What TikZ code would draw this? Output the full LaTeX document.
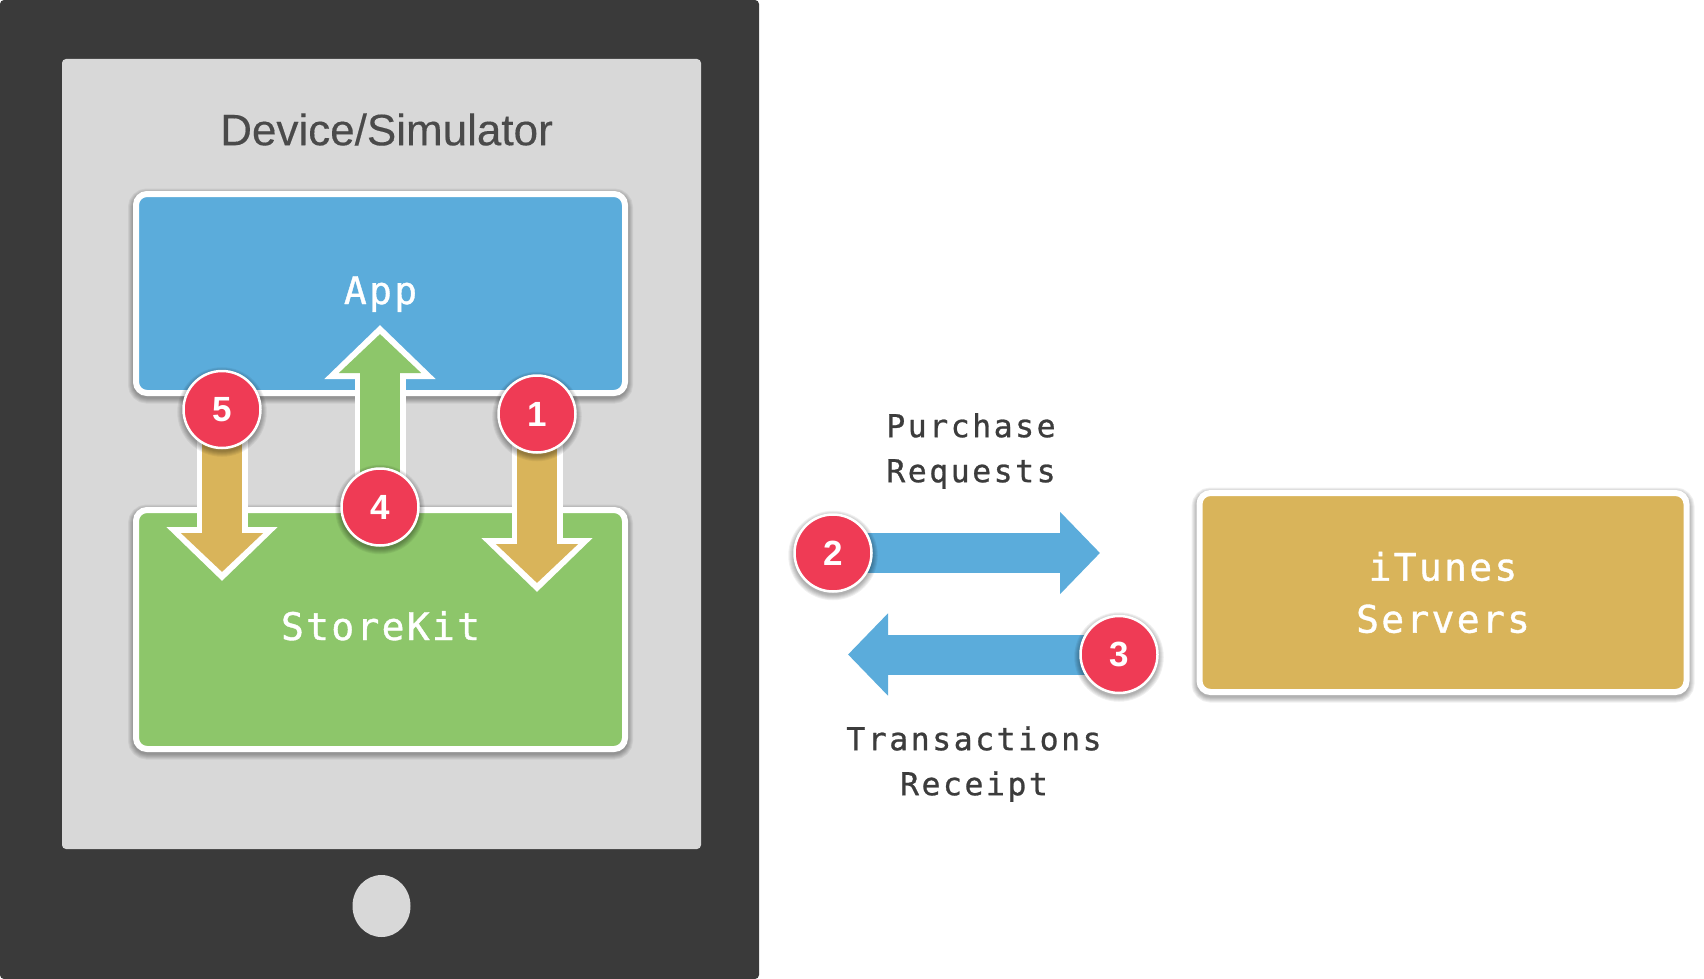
\documentclass[tikz,border=0pt]{standalone}
\usepackage{fontspec}
\setmainfont{Liberation Sans}
\newfontfamily\titlefont[FakeBold=0.3]{Liberation Sans}
\newfontfamily\labelfont[LetterSpace=8,FakeBold=0.8]{DejaVu Sans Mono}
\newfontfamily\boxfont[LetterSpace=6,FakeBold=1]{DejaVu Sans Mono}
\usetikzlibrary{arrows.meta,shapes.geometric}
\definecolor{cDevice}{HTML}{3A3A3A}
\definecolor{cScreen}{HTML}{D8D8D8}
\definecolor{cTitle}{HTML}{4A4A4A}
\definecolor{cBlue}{HTML}{5BACDB}
\definecolor{cGreen}{HTML}{8DC66A}
\definecolor{cGold}{HTML}{D9B45A}
\definecolor{cRed}{HTML}{EF3B55}
\definecolor{cLabel}{HTML}{3C3C3C}
\pgfdeclarelayer{panels}
\pgfdeclarelayer{arrows}
\pgfsetlayers{panels,arrows,main}
\tikzset{
  softring/.style={preaction={draw=black, fill=none, draw opacity=0.06, line width=#1, transform canvas={yshift=-2.5pt}}},
  softshadow/.style={softring=#1+10pt, softring=#1+8pt, softring=#1+6pt, softring=#1+4pt, softring=#1+2pt, softring=#1},
  box/.style={rectangle, rounded corners=11pt, draw=white, line width=6pt, minimum width=489pt, minimum height=199pt, inner sep=0pt, text=white, align=center, font=\boxfont\fontsize{38}{52}\selectfont, softshadow=6pt},
  badge/.style={circle, fill=cRed, draw=white, line width=2.5pt, minimum size=77pt, inner sep=0pt, text=white, font=\bfseries\fontsize{35}{35}\selectfont, softshadow=2.5pt},
  flow/.style={text=cLabel, align=center, font=\labelfont\fontsize{31.5}{45}\selectfont},
  edgearrow/.style={white, line width=51pt, -{Triangle[length=54pt, width=108pt]}},
  goldarrow/.style={cGold, line width=40pt, -{Triangle[length=39pt, width=80pt]}},
  greenarrow/.style={cGreen, line width=40pt, -{Triangle[length=39pt, width=80pt]}},
  bluearrow/.style={cBlue, line width=40pt, -{Triangle[length=40pt, width=80pt]}},
}
\begin{document}
\begin{tikzpicture}[x=1pt, y=-1pt]
  \useasboundingbox (0,0) rectangle (1704,979);

  \begin{pgfonlayer}{panels}
    \node[rectangle, rounded corners=4pt, fill=cDevice, minimum width=759pt, minimum height=979pt, inner sep=0pt] (nDevice) at (379.5,489.5) {};
    \node[rectangle, rounded corners=4pt, fill=cScreen, minimum width=639pt, minimum height=790pt, inner sep=0pt] (nScreen) at (381.5,454) {};
    \node[ellipse, fill=cScreen, minimum width=58pt, minimum height=62pt, inner sep=0pt] (nHome) at (381.5,906) {};
    \node[text=cTitle, font=\titlefont\fontsize{44}{44}\selectfont, inner sep=0pt] (nTitle) at (386.5,129.5) {Device/Simulator};
    \node[box, fill=cBlue, text height=28pt, text depth=7pt] (nApp) at (380.5,293.5) {App};
    \node[box, fill=cGreen, minimum height=239pt, text height=28pt, text depth=7pt] (nStoreKit) at (380.5,629.5) {StoreKit};
    \node[box, fill=cGold, minimum width=487pt] (nServers) at (1443,592.5) {iTunes\\Servers};
  \end{pgfonlayer}

  \node[badge] (n1) at (537,414) {1};
  \node[badge] (n2) at (833,553) {2};
  \node[badge] (n3) at (1119,654.5) {3};
  \node[badge] (n4) at (380,507) {4};
  \node[badge] (n5) at (222,409.5) {5};

  \node[flow] (nPurchase) at (971,451) {Purchase\\Requests};
  \node[flow] (nReceipt) at (974,764) {Transactions\\Receipt};

  \coordinate (e1) at (537,592);
  \coordinate (t1) at (537,583);
  \coordinate (t2) at (1100,553);
  \coordinate (t3) at (848,654.5);
  \coordinate (e4) at (380,325);
  \coordinate (t4) at (380,334);
  \coordinate (e5) at (222,581);
  \coordinate (t5) at (222,572);

  \begin{pgfonlayer}{arrows}
    \draw[edgearrow] (n1.center) -- (e1);
    \draw[goldarrow] (n1.center) -- (t1);
    \draw[edgearrow] (n4.center) -- (e4);
    \draw[greenarrow] (n4.center) -- (t4);
    \draw[edgearrow] (n5.center) -- (e5);
    \draw[goldarrow] (n5.center) -- (t5);
    \draw[bluearrow] (n2.center) -- (t2);
    \draw[bluearrow] (n3.center) -- (t3);
  \end{pgfonlayer}
\end{tikzpicture}
\end{document}
